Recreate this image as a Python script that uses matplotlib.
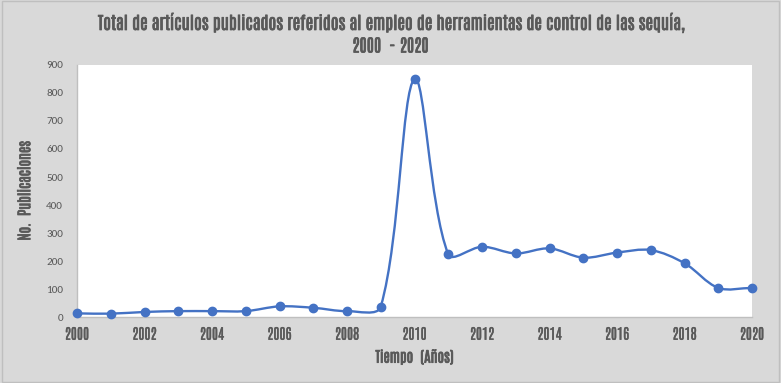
import numpy as np
import matplotlib
matplotlib.use("Agg")
import matplotlib.pyplot as plt
import matplotlib.patheffects as pe
from matplotlib.path import Path
from matplotlib.patches import PathPatch, Rectangle

years = [2000, 2001, 2002, 2003, 2004, 2005, 2006, 2007, 2008, 2009, 2010,
         2011, 2012, 2013, 2014, 2015, 2016, 2017, 2018, 2019, 2020]
publicaciones = [13, 12, 18, 21, 21, 21, 38, 33, 21, 37, 850,
                 224, 251, 227, 245, 212, 230, 239, 192, 104, 104]
x_ticks = list(range(2000, 2021, 2))
y_ticks = list(range(0, 901, 100))

narrow = ['Antonio', 'Barlow Condensed', 'DejaVu Sans']
calibri = ['Carlito', 'DejaVu Sans']
blue = '#4472C4'
txt = '#595959'
heavy = [pe.withStroke(linewidth=0.55, foreground=txt)]

fig = plt.figure(figsize=(7.81, 3.83), dpi=100)
fig.patch.set_facecolor('#d9d9d9')
fig.patches.append(Rectangle((0.002, 0.003), 0.996, 0.994, transform=fig.transFigure,
                             fill=False, edgecolor='#bfbfbf', linewidth=1))

ax = fig.add_axes([0.0986, 0.1723, 0.8643, 0.658])
ax.set_facecolor('white')
ax.set_xlim(2000, 2020)
ax.set_ylim(0, 900)


def smooth_path(x, y):
    # Excel-like smoothed line: Bezier segments, tangents split by segment length in pixels
    x = np.asarray(x, float)
    y = np.asarray(y, float)
    pts = ax.transData.transform(np.column_stack([x, y]))
    n = len(pts)
    before = pts.copy()
    after = pts.copy()
    for i in range(n):
        p0 = pts[max(i - 1, 0)]
        p2 = pts[min(i + 1, n - 1)]
        d1 = np.hypot(*(pts[i] - p0))
        d2 = np.hypot(*(p2 - pts[i]))
        if d1 + d2 == 0:
            continue
        t = p2 - p0
        before[i] = pts[i] - t * d1 / (d1 + d2) / 3
        after[i] = pts[i] + t * d2 / (d1 + d2) / 3
    verts = [pts[0]]
    codes = [Path.MOVETO]
    for i in range(n - 1):
        verts += [after[i], before[i + 1], pts[i + 1]]
        codes += [Path.CURVE4] * 3
    inv = ax.transData.inverted()
    return Path(inv.transform(np.array(verts)), codes)


ax.add_patch(PathPatch(smooth_path(years, publicaciones), fill=False,
                       edgecolor=blue, linewidth=1.7, zorder=3))
ax.plot(years, publicaciones, 'o', color=blue, markersize=6, zorder=4, clip_on=False)

ax.set_xticks(x_ticks)
ax.set_yticks(y_ticks)
ax.set_xticklabels([str(v) for v in x_ticks], family=narrow, fontsize=10.5, color=txt,
                   path_effects=[pe.withStroke(linewidth=0.25, foreground=txt)])
ax.set_yticklabels([str(v) for v in y_ticks], family=calibri, fontsize=8, color=txt)
ax.tick_params(axis='both', length=0)
ax.tick_params(axis='x', pad=7)
ax.tick_params(axis='y', pad=10)

for s in ['top', 'right']:
    ax.spines[s].set_visible(False)
for s in ['left', 'bottom']:
    ax.spines[s].set_color('#bfbfbf')
    ax.spines[s].set_linewidth(1)

ax.set_xlabel('Tiempo  (Años)', family=narrow, fontsize=10.5, fontweight='bold',
              color=txt, labelpad=5, path_effects=heavy)
ax.set_ylabel('No.  Publicaciones', family=narrow, fontsize=10.5, fontweight='bold',
              color=txt, labelpad=10, path_effects=heavy)

fig.text(0.5, 0.94, 'Total de artículos publicados referidos al empleo de herramientas de control de las sequía,',
         ha='center', va='center', family=narrow, fontsize=12.5, fontweight='bold', color=txt,
         path_effects=heavy)
fig.text(0.5, 0.88, '2000  - 2020', ha='center', va='center', family=narrow,
         fontsize=12.5, fontweight='bold', color=txt, path_effects=heavy)

fig.savefig('out.png', dpi=100, facecolor=fig.get_facecolor())
